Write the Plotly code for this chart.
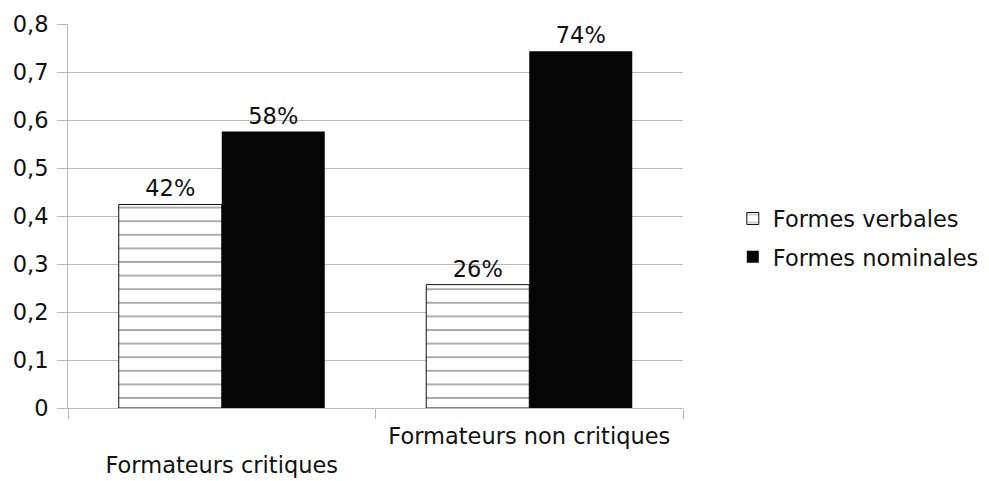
import plotly.graph_objects as go

categories = ["Formateurs critiques", "Formateurs non critiques"]
tick_labels = ["<br>Formateurs critiques", "Formateurs non critiques"]
series_names = ["Formes verbales", "Formes nominales"]
verbales = [0.424, 0.257]
nominales = [0.576, 0.743]
y_ticks = [0, 0.1, 0.2, 0.3, 0.4, 0.5, 0.6, 0.7, 0.8]
y_tick_labels = ["0", "0,1", "0,2", "0,3", "0,4", "0,5", "0,6", "0,7", "0,8"]

FONT = "DejaVu Sans, Arial, sans-serif"
FS = 22.5
INK = "#111111"
GRID = "#b8b8b8"

fig = go.Figure()
fig.add_trace(go.Bar(
    x=categories, y=verbales, name=series_names[0], legendgroup="a",
    text=[f"{round(v*100)}%" for v in verbales], textposition="outside",
    textfont=dict(size=FS, color=INK, family=FONT),
    marker=dict(color="white", line=dict(color=INK, width=1),
                pattern=dict(shape="-", size=13.6, solidity=0.1,
                             fgcolor=INK, bgcolor="white")),
    cliponaxis=False,
))
fig.add_trace(go.Bar(
    x=categories, y=nominales, name=series_names[1], legendgroup="b",
    text=[f"{round(v*100)}%" for v in nominales], textposition="outside",
    textfont=dict(size=FS, color=INK, family=FONT),
    marker=dict(color="#050505", line=dict(color="#050505", width=0)),
    cliponaxis=False,
))

# page body has an 8px margin; figure sized/positioned to compensate
fig.update_layout(
    width=973, height=473,
    margin=dict(l=60, r=298, t=16, b=73, autoexpand=False),
    paper_bgcolor="white", plot_bgcolor="white",
    barmode="group", bargap=0.33, bargroupgap=0,
    font=dict(family=FONT, size=FS, color=INK),
    showlegend=True,
    legend=dict(x=1.081, y=0.443, xanchor="left", yanchor="middle",
                font=dict(size=FS, family=FONT, color=INK),
                traceorder="grouped", tracegroupgap=6,
                itemwidth=30, bgcolor="rgba(0,0,0,0)"),
    xaxis=dict(
        tickmode="array", tickvals=categories, ticktext=tick_labels,
        tickson="boundaries", ticks="outside", ticklen=10,
        tickcolor=GRID, showline=True, linecolor=GRID, linewidth=1,
        showgrid=False, tickfont=dict(size=FS, family=FONT, color=INK),
        ticklabelstandoff=8, automargin=False,
    ),
    yaxis=dict(
        range=[0, 0.8], tickmode="array", tickvals=y_ticks, ticktext=y_tick_labels,
        ticks="outside", ticklen=10, tickcolor=GRID,
        showgrid=True, gridcolor=GRID, gridwidth=1,
        showline=True, linecolor=GRID, linewidth=1,
        zeroline=False, tickfont=dict(size=FS, family=FONT, color=INK),
        ticklabelstandoff=4, automargin=False,
    ),
)

fig.write_html("out.html")
